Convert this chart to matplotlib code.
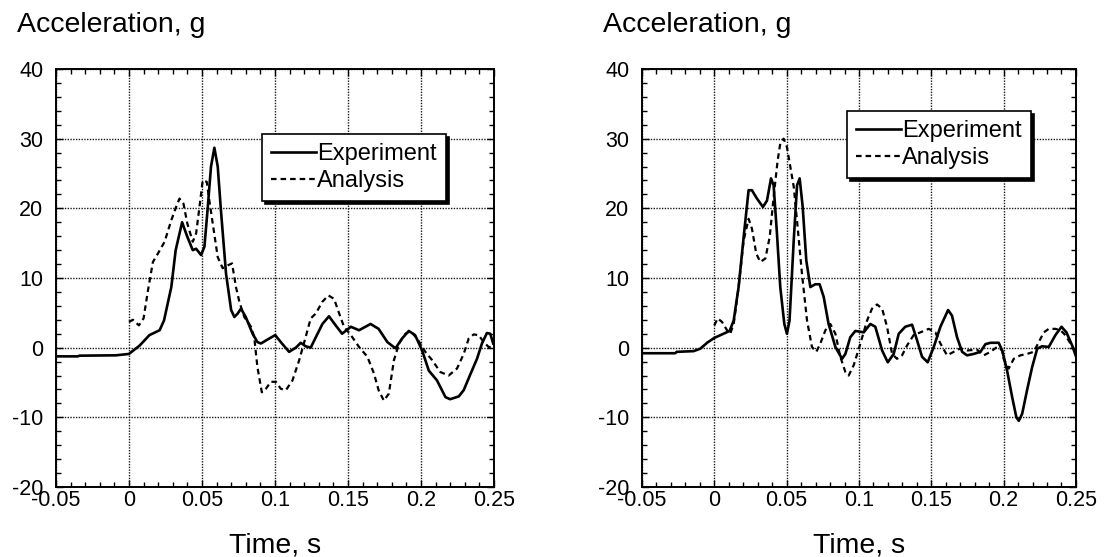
import matplotlib
matplotlib.use("Agg")
import matplotlib.pyplot as plt
from matplotlib.ticker import MultipleLocator

plt.rcParams['font.family'] = ['Liberation Sans', 'DejaVu Sans']
plt.rcParams['axes.unicode_minus'] = False

# left panel: experiment (solid) and analysis (dashed)
t_exp1 = [-0.05, -0.035, -0.034, -0.009, 0.0, 0.0073, 0.014, 0.021, 0.024, 0.029, 0.032,
          0.0364, 0.040, 0.0437, 0.046, 0.0494, 0.0517, 0.054, 0.0562, 0.0585, 0.0608,
          0.063, 0.0665, 0.070, 0.0722, 0.0745, 0.0767, 0.080, 0.0847, 0.088, 0.0904,
          0.096, 0.1002, 0.104, 0.1097, 0.1143, 0.1177, 0.121, 0.1245, 0.128, 0.1325,
          0.137, 0.1416, 0.146, 0.152, 0.1576, 0.1655, 0.171, 0.177, 0.1826, 0.187,
          0.1917, 0.196, 0.2008, 0.2054, 0.211, 0.2168, 0.220, 0.2259, 0.2293, 0.2339,
          0.2384, 0.2418, 0.2452, 0.2475, 0.2495]
a_exp1 = [-1.25, -1.25, -1.15, -1.1, -0.9, 0.3, 1.8, 2.5, 3.9, 8.7, 14.0,
          18.0, 15.9, 14.0, 14.2, 13.3, 14.5, 20.2, 26.0, 28.7, 26.0,
          19.7, 10.6, 5.4, 4.4, 4.9, 5.6, 4.4, 2.0, 0.8, 0.6,
          1.3, 1.8, 0.8, -0.6, 0.0, 0.7, 0.2, 0.0, 1.5, 3.4,
          4.5, 3.2, 2.0, 3.0, 2.5, 3.4, 2.7, 0.8, -0.1, 1.3,
          2.4, 1.8, -0.4, -3.3, -4.7, -7.1, -7.4, -7.0, -6.1, -3.8,
          -1.6, 0.6, 2.1, 2.0, 0.6]

t_ana1 = [0.0, 0.0027, 0.0068, 0.010, 0.013, 0.0164, 0.0198, 0.0244, 0.029, 0.0323,
          0.0346, 0.0373, 0.040, 0.0437, 0.046, 0.0483, 0.0505, 0.0533, 0.055, 0.0574,
          0.0608, 0.0642, 0.0676, 0.0706, 0.0733, 0.0756, 0.079, 0.0836, 0.0858, 0.088,
          0.091, 0.0938, 0.0972, 0.1006, 0.104, 0.1075, 0.112, 0.1166, 0.121, 0.1245,
          0.128, 0.1325, 0.1366, 0.1405, 0.144, 0.1473, 0.152, 0.1576, 0.1633, 0.1678,
          0.171, 0.1746, 0.178, 0.1815, 0.185, 0.1894, 0.1928, 0.1974, 0.203, 0.2077,
          0.2133, 0.219, 0.2247, 0.2293, 0.2327, 0.2361, 0.2395, 0.243, 0.2464, 0.249]
a_ana1 = [3.7, 4.0, 3.2, 4.2, 8.2, 12.3, 13.5, 15.2, 18.3, 20.2,
          21.4, 20.7, 17.8, 15.2, 16.4, 20.2, 24.0, 23.8, 21.2, 17.8,
          13.0, 11.4, 11.8, 12.1, 8.7, 6.6, 4.4, 3.0, 1.5, -2.8,
          -6.4, -5.9, -4.9, -4.9, -5.9, -6.1, -4.7, -1.8, 1.5, 4.2,
          4.9, 6.6, 7.5, 7.0, 4.9, 3.0, 1.8, 0.1, -1.3, -3.7,
          -6.1, -7.6, -6.6, -1.8, 0.6, 2.0, 2.4, 1.3, -0.6, -1.8,
          -3.5, -4.0, -3.0, -0.9, 1.3, 1.9, 1.8, 0.8, 0.1, 0.1]

# right panel
t_exp2 = [-0.0507, -0.027, -0.026, -0.0143, -0.0097, -0.005, 0.0, 0.0053, 0.0106, 0.0134,
          0.0168, 0.0203, 0.0237, 0.026, 0.0295, 0.0336, 0.0364, 0.0392, 0.041, 0.0433,
          0.0456, 0.0484, 0.0502, 0.052, 0.0549, 0.0572, 0.059, 0.0611, 0.0636, 0.0664,
          0.0698, 0.0728, 0.0756, 0.079, 0.0837, 0.0883, 0.0906, 0.094, 0.0975, 0.1033,
          0.1079, 0.1113, 0.116, 0.1199, 0.124, 0.1275, 0.132, 0.1367, 0.1401, 0.1436,
          0.1475, 0.1517, 0.1563, 0.1616, 0.1643, 0.1678, 0.1713, 0.1747, 0.1793, 0.184,
          0.1874, 0.1909, 0.1966, 0.199, 0.2024, 0.2059, 0.2088, 0.2105, 0.2128, 0.2162,
          0.2197, 0.2232, 0.2266, 0.2312, 0.2358, 0.240, 0.2434, 0.2474, 0.2501]
a_exp2 = [-0.8, -0.8, -0.6, -0.5, -0.15, 0.7, 1.4, 1.9, 2.4, 3.9,
          8.7, 15.9, 22.6, 22.6, 21.4, 20.2, 21.1, 24.3, 23.3, 16.4,
          8.7, 3.4, 2.0, 3.9, 15.4, 23.3, 24.3, 20.2, 12.5, 8.7,
          9.1, 9.1, 7.3, 3.4, 0.1, -1.6, -0.9, 1.5, 2.4, 2.2,
          3.4, 3.0, -0.4, -2.1, -0.9, 2.0, 3.0, 3.3, 1.1, -1.3,
          -2.1, 0.1, 3.0, 5.4, 4.6, 1.5, -0.6, -1.1, -0.9, -0.6,
          0.5, 0.7, 0.7, -0.4, -3.3, -7.1, -10.0, -10.5, -9.5, -6.1,
          -2.8, -0.15, 0.2, 0.1, 1.8, 3.0, 2.2, 0.3, -1.3]

t_ana2 = [0.0, 0.0023, 0.0053, 0.0088, 0.011, 0.0134, 0.0168, 0.0203, 0.0237, 0.026,
          0.029, 0.0318, 0.0353, 0.0383, 0.041, 0.0438, 0.0456, 0.0479, 0.0502, 0.0526,
          0.0549, 0.0576, 0.0606, 0.0641, 0.0675, 0.0705, 0.0733, 0.0768, 0.0802, 0.0837,
          0.0871, 0.0906, 0.0929, 0.0964, 0.101, 0.1056, 0.109, 0.1125, 0.116, 0.1194,
          0.1229, 0.1263, 0.1298, 0.1332, 0.1378, 0.1425, 0.1482, 0.1528, 0.1563, 0.1609,
          0.1655, 0.1701, 0.1747, 0.1816, 0.1863, 0.1909, 0.1955, 0.199, 0.200, 0.2035,
          0.207, 0.2116, 0.2162, 0.2208, 0.2243, 0.2278, 0.2312, 0.2358, 0.2393, 0.2427,
          0.2462, 0.2497]
a_ana2 = [3.2, 4.2, 3.7, 2.5, 2.0, 3.4, 8.7, 15.4, 18.5, 17.1,
          13.5, 12.3, 12.8, 15.9, 21.6, 26.9, 29.3, 30.0, 28.8, 25.9,
          23.1, 17.3, 10.6, 3.9, 0.1, -0.6, 0.6, 2.5, 3.4, 2.0,
          -1.3, -3.5, -4.0, -2.5, 0.6, 3.9, 5.6, 6.2, 5.6, 3.0,
          -0.9, -1.6, -1.1, 0.3, 1.8, 2.2, 2.7, 2.2, 0.6, -1.1,
          -0.6, -0.1, -0.4, -0.3, -1.1, -0.6, 0.1, -0.4, -1.6, -3.0,
          -1.6, -1.1, -0.9, -0.6, 0.8, 2.2, 2.7, 2.7, 2.5, 1.8,
          0.6, -0.6]

xticks = [-0.05, 0, 0.05, 0.1, 0.15, 0.2, 0.25]
xticklabels = ['-0.05', '0', '0.05', '0.1', '0.15', '0.2', '0.25']
yticks = [-20, -10, 0, 10, 20, 30, 40]

fig = plt.figure(figsize=(11.04, 5.57), dpi=100)
ax1 = fig.add_axes([0.0507, 0.1257, 0.3967, 0.7504])
ax2 = fig.add_axes([0.5815, 0.1257, 0.3931, 0.7504])

panels = [(ax1, t_exp1, a_exp1, t_ana1, a_ana1, (0.47, 0.845)),
          (ax2, t_exp2, a_exp2, t_ana2, a_ana2, (0.472, 0.90))]

for ax, te, ae, ta, aa, anchor in panels:
    ax.plot(te, ae, color='black', lw=1.9, label='Experiment')
    ax.plot(ta, aa, color='black', lw=1.6, linestyle=(0, (2.5, 1.8)), label='Analysis')
    ax.set_xlim(-0.05, 0.25)
    ax.set_ylim(-20, 40)
    ax.set_xticks(xticks)
    ax.set_xticklabels(xticklabels)
    ax.set_yticks(yticks)
    ax.xaxis.set_minor_locator(MultipleLocator(0.01))
    ax.yaxis.set_minor_locator(MultipleLocator(2))
    ax.tick_params(which='both', direction='in', top=True, right=True, width=1.0)
    ax.tick_params(which='major', length=5, labelsize=15.5)
    ax.tick_params(which='minor', length=3.5)
    ax.tick_params(axis='y', pad=9)
    ax.tick_params(axis='x', pad=2)
    ax.grid(True, which='major', color='0.1', linestyle=(0, (1, 1)), lw=1.0)
    for s in ax.spines.values():
        s.set_linewidth(1.4)
    leg = ax.legend(loc='upper left', bbox_to_anchor=anchor, fontsize=17,
                    frameon=True, fancybox=False, edgecolor='black',
                    shadow={'color': 'black', 'alpha': 1.0},
                    handlelength=1.9, handletextpad=0.05, borderpad=0.4,
                    labelspacing=0.2, borderaxespad=0.0)
    leg.get_frame().set_linewidth(1.2)
    leg.get_frame().set_alpha(1.0)

fig.text(0.0155, 0.942, 'Acceleration, g', fontsize=20.5, va='baseline', ha='left')
fig.text(0.546, 0.942, 'Acceleration, g', fontsize=20.5, va='baseline', ha='left')
fig.text(0.0507 + 0.3967 / 2, 0.008, 'Time, s', fontsize=20.5, va='baseline', ha='center')
fig.text(0.5815 + 0.3931 / 2, 0.008, 'Time, s', fontsize=20.5, va='baseline', ha='center')

fig.savefig('out.png', dpi=100)
